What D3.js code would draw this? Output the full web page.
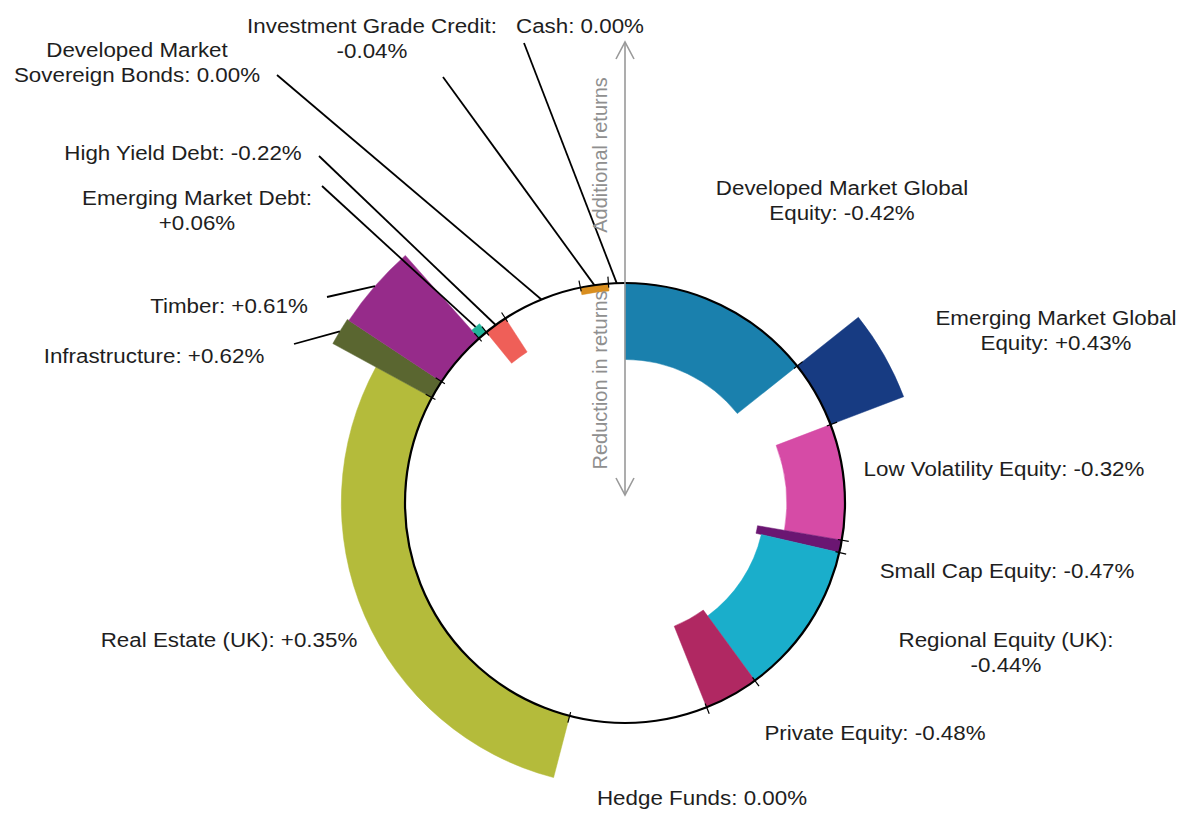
<!DOCTYPE html>
<html>
<head>
<meta charset="utf-8">
<script src="https://cdn.jsdelivr.net/npm/d3@7"></script>
<style>
  body { margin: 0; background: #fff; }
  svg { display: block; }
</style>
</head>
<body>
<script>
// Asset classes, clockwise from 12 o'clock
const assetClasses = [
  "Developed Market Global Equity", "Emerging Market Global Equity", "Low Volatility Equity",
  "Small Cap Equity", "Regional Equity (UK)", "Private Equity", "Hedge Funds",
  "Real Estate (UK)", "Infrastructure", "Timber", "Emerging Market Debt",
  "High Yield Debt", "Developed Market Sovereign Bonds", "Investment Grade Credit", "Cash"
];
// portfolio weight (% of circle)
const weights = [14.3, 4.9, 8.5, 0.92, 11.33, 4.0, 10.1, 28.9, 1.35, 4.15, 0.7, 1.7, 5.9, 2.05, 1.2];
// change in returns (%)
const returns = [-0.42, 0.43, -0.32, -0.47, -0.44, -0.48, 0.00, 0.35, 0.62, 0.61, 0.06, -0.22, 0.00, -0.04, 0.00];
const colors = ["#1a80ad", "#173b82", "#d64ba6", "#6b1672", "#1aaecb", "#b02862", "#999999",
  "#b4bb3b", "#5a6630", "#962b8a", "#21b59a", "#ef5f58", "#999999", "#d98e1e", "#999999"];
const labelLines = [
  ["Developed Market Global", "Equity: -0.42%"],
  ["Emerging Market Global", "Equity: +0.43%"],
  ["Low Volatility Equity: -0.32%"],
  ["Small Cap Equity: -0.47%"],
  ["Regional Equity (UK):", "-0.44%"],
  ["Private Equity: -0.48%"],
  ["Hedge Funds: 0.00%"],
  ["Real Estate (UK): +0.35%"],
  ["Infrastructure: +0.62%"],
  ["Timber: +0.61%"],
  ["Emerging Market Debt:", "+0.06%"],
  ["High Yield Debt: -0.22%"],
  ["Developed Market", "Sovereign Bonds: 0.00%"],
  ["Investment Grade Credit:", "-0.04%"],
  ["Cash: 0.00%"]
];

// layout: label centre x / first baseline y, and leader line start (null = no leader)
const labelPos = [
  [842, 195], [1056, 325], [1004, 476], [1007, 578], [1006, 647], [875, 740], [702, 805],
  [229, 647], [154, 363], [229, 313], [197, 205], [183, 160], [137, 57], [372, 33], [580, 33]
];
const leaderStart = [
  null, null, null, null, null, null, null, null,
  [294, 344], [327, 297], [322, 186], [319, 156], [277, 75], [443, 77], [524, 43]
];

const W = 1181, H = 814;
const cx = 625, cy = 503, R = 220;

const svg = d3.select("body").append("svg")
  .attr("width", W)
  .attr("height", H)
  .style("background", "#fff");

const g = svg.append("g").attr("transform", `translate(${cx},${cy})`);

const data = assetClasses.map((name, i) => ({
  name: name, weight: weights[i], value: returns[i], color: colors[i], i: i
}));

const pie = d3.pie()
  .sort(null)
  .value(d => d.weight)
  .startAngle(0)
  .endAngle(2 * Math.PI);
const slices = pie(data);

// radial scale: 1% of return = 182px
const rScale = d3.scaleLinear().domain([0, 1]).range([R, R + 182]);

const arc = d3.arc()
  .innerRadius(d => Math.min(R, rScale(d.data.value)))
  .outerRadius(d => Math.max(R, rScale(d.data.value)));

// bars
g.selectAll("path.bar")
  .data(slices.filter(d => d.data.value !== 0))
  .enter()
  .append("path")
  .attr("class", "bar")
  .attr("d", arc)
  .attr("fill", d => d.data.color)
  .attr("stroke", d => d.data.color)
  .attr("stroke-width", 0.5);

// base circle
g.append("circle")
  .attr("r", R)
  .attr("fill", "none")
  .attr("stroke", "#000")
  .attr("stroke-width", 2.2);

// ticks at slice boundaries
g.selectAll("line.tick")
  .data(slices.filter(d => d.startAngle > 0))
  .enter()
  .append("line")
  .attr("class", "tick")
  .attr("x1", d => (R - 4) * Math.sin(d.startAngle))
  .attr("y1", d => -(R - 4) * Math.cos(d.startAngle))
  .attr("x2", d => (R + 7) * Math.sin(d.startAngle))
  .attr("y2", d => -(R + 7) * Math.cos(d.startAngle))
  .attr("stroke", "#000")
  .attr("stroke-width", 1.2);

// leader lines
const leaderEnd = d => {
  const a = (d.startAngle + d.endAngle) / 2;
  const r = Math.max(R, rScale(d.data.value));
  return [cx + r * Math.sin(a), cy - r * Math.cos(a)];
};
svg.selectAll("line.leader")
  .data(slices.filter(d => leaderStart[d.data.i]))
  .enter()
  .append("line")
  .attr("class", "leader")
  .attr("x1", d => leaderStart[d.data.i][0])
  .attr("y1", d => leaderStart[d.data.i][1])
  .attr("x2", d => leaderEnd(d)[0])
  .attr("y2", d => leaderEnd(d)[1])
  .attr("stroke", "#000")
  .attr("stroke-width", 1.8);

// vertical double arrow
const axisY = d3.scaleLinear().domain([1, -1]).range([42, 495]);
const arrow = svg.append("g").attr("stroke", "#999").attr("stroke-width", 1.6).attr("fill", "none");
arrow.append("line").attr("x1", cx).attr("x2", cx).attr("y1", axisY(1)).attr("y2", axisY(-1));
arrow.append("path").attr("d", `M${cx - 9},${axisY(1) + 17}L${cx},${axisY(1)}L${cx + 9},${axisY(1) + 17}`);
arrow.append("path").attr("d", `M${cx - 9},${axisY(-1) - 17}L${cx},${axisY(-1)}L${cx + 9},${axisY(-1) - 17}`);

svg.append("text")
  .attr("transform", `translate(607,155) rotate(-90)`)
  .attr("text-anchor", "middle")
  .attr("font-family", "Liberation Sans, Arial, sans-serif")
  .attr("font-size", 20)
  .attr("fill", "#8f8f8f")
  .text("Additional returns");
svg.append("text")
  .attr("transform", `translate(607,380) rotate(-90)`)
  .attr("text-anchor", "middle")
  .attr("font-family", "Liberation Sans, Arial, sans-serif")
  .attr("font-size", 20)
  .attr("fill", "#8f8f8f")
  .text("Reduction in returns");

// labels
data.forEach((d, i) => {
  const [x, y] = labelPos[i];
  labelLines[i].forEach((line, j) => {
    svg.append("text")
      .attr("transform", `translate(${x},${y + j * 24.5}) scale(1.065,1)`)
      .attr("text-anchor", "middle")
      .attr("font-family", "Liberation Sans, Arial, sans-serif")
      .attr("font-size", 21)
      .attr("fill", "#1e1e1e")
      .text(line);
  });
});
</script>
</body>
</html>
